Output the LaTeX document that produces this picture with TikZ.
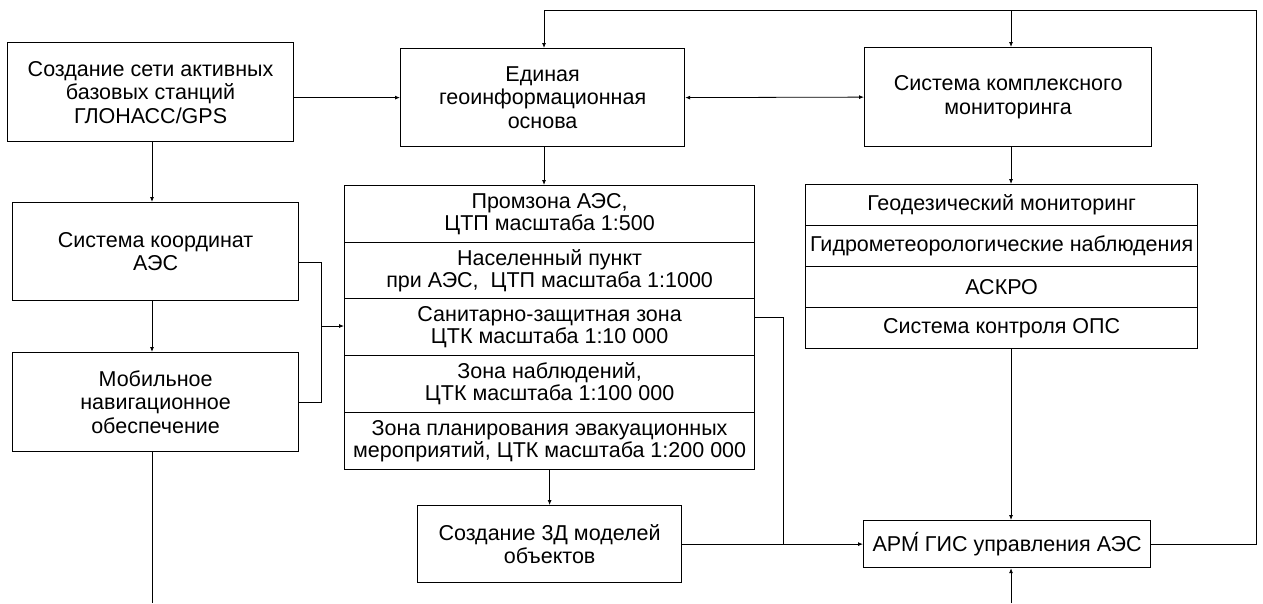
\documentclass[tikz,border=0pt]{standalone}
\usepackage{fontspec}
\setmainfont{Liberation Sans}
\usetikzlibrary{arrows.meta}
\begin{document}
\begin{tikzpicture}[x=1pt,y=-1pt,
  every node/.style={font=\fontsize{21.5}{23.5}\selectfont},
  blk/.style={draw,line width=1.2pt,inner sep=0pt,align=center,anchor=north west},
  row/.style={blk,font=\fontsize{21.5}{22}\selectfont},
  ln/.style={line width=0.8pt},
  arr/.style={ln,-{Latex[length=5pt,width=4pt]}}]
\useasboundingbox (0,0) rectangle (1263,603);

% upper row of blocks
\node[blk,minimum width=286pt,minimum height=99pt] (A) at (7,42)
  {Создание сети активных\\базовых станций\\ГЛОНАСС/GPS};
\node[blk,minimum width=284pt,minimum height=98pt] (E) at (400,48)
  {Единая\\геоинформационная\\основа};
\node[blk,minimum width=287pt,minimum height=99pt] (S) at (864,47)
  {Система комплексного\\мониторинга};

% left column
\node[blk,minimum width=286pt,minimum height=98pt] (K) at (12,202)
  {Система координат\\АЭС};
\node[blk,minimum width=286pt,minimum height=99pt] (M) at (12,352)
  {Мобильное\\навигационное\\обеспечение};

% stacked map scales
\node[row,minimum width=410pt,minimum height=57pt] (r1) at (344,185)
  {Промзона АЭС,\\ЦТП масштаба 1:500};
\node[row,minimum width=410pt,minimum height=56pt] (r2) at (344,242)
  {Населенный пункт\\при АЭС,\ \ ЦТП масштаба 1:1000};
\node[row,minimum width=410pt,minimum height=57pt] (r3) at (344,298)
  {Санитарно-защитная зона\\ЦТК масштаба 1:10 000};
\node[row,minimum width=410pt,minimum height=57pt] (r4) at (344,355)
  {Зона наблюдений,\\ЦТК масштаба 1:100 000};
\node[row,minimum width=410pt,minimum height=57pt] (r5) at (344,412)
  {Зона планирования эвакуационных\\мероприятий, ЦТК масштаба 1:200 000};

% stacked monitoring subsystems
\node[blk,minimum width=392pt,minimum height=41pt] (m1) at (805,184)
  {Геодезический мониторинг};
\node[blk,minimum width=392pt,minimum height=41pt] (m2) at (805,225)
  {Гидрометеорологические наблюдения};
\node[blk,minimum width=392pt,minimum height=41pt] (m3) at (805,266)
  {АСКРО};
\node[blk,minimum width=392pt,minimum height=41pt] (m4) at (805,307)
  {Система контроля ОПС};

% bottom blocks
\node[blk,minimum width=264pt,minimum height=77pt] (D) at (417,505)
  {Создание 3Д моделей\\объектов};
\node[blk,minimum width=287pt,minimum height=47pt] (W) at (863,520)
  {АРМ́ ГИС управления АЭС};

% junction and corner points
\coordinate (cx) at (1011,0);
\coordinate (tl) at (544,10);
\coordinate (tr) at (1256,10);
\coordinate (jl) at (321,326);
\coordinate (jr) at (783,317);
\coordinate (bl) at (152,603);
\coordinate (bw) at (1011,603);

% connectors
\draw[arr] (A.east |- E.west) -- (E.west);
\draw[ln,{Latex[length=5pt,width=4pt]}-{Latex[length=5pt,width=4pt]}] (E.east) -- (S.west);
\draw[arr] (E.south -| tl) -- (r1.north -| tl);
\draw[arr] (S.south -| cx) -- (m1.north -| cx);
\draw[arr] (m4.south -| cx) -- (W.north -| cx);
\draw[arr] (bw) -- (W.south -| bw);
\draw[arr] (W.east) -- (W.east -| tr) -- (tr) -- (tl) -- (E.north -| tl);
\draw[arr] (cx |- tr) -- (S.north -| cx);
\draw[arr] (A.south -| bl) -- (K.north -| bl);
\draw[arr] (K.south -| bl) -- (M.north -| bl);
\draw[ln] (M.south -| bl) -- (bl);
\draw[ln] ([yshift=-11pt]K.east) -| (jl);
\draw[ln] (M.east) -| (jl);
\draw[arr] (jl) -- (r3.west |- jl);
\draw[arr] (r5.south) -- (D.north);
\draw[ln] (r3.east |- jr) -- (jr) -- (jr |- W.west);
\draw[arr] (D.east) -- (W.west);
\end{tikzpicture}
\end{document}
